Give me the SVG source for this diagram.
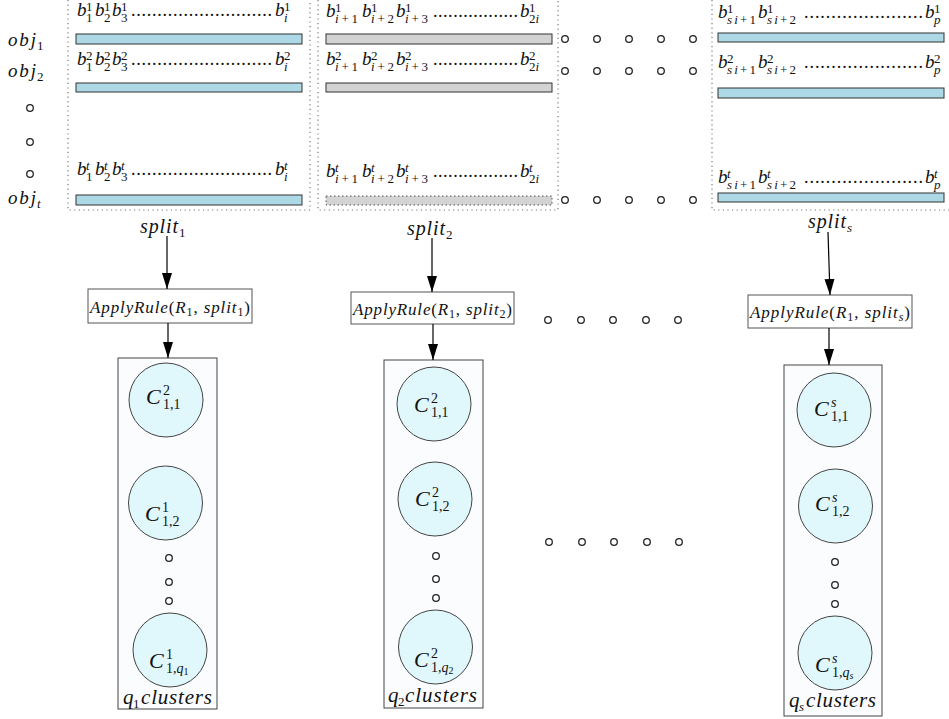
<svg xmlns="http://www.w3.org/2000/svg" width="949" height="719" viewBox="0 0 949 719">
  <style>
    text { font-family: "Liberation Serif", "DejaVu Serif", serif; fill: #111; }
    .m { font-style: italic; font-size: 19px; }
    .s { font-size: 13px; }
    .it { font-style: italic; }
    .dots { font-size: 18px; }
    .c { font-style: italic; font-size: 22px; }
    .cs { font-size: 14px; }
    .lbl { font-style: italic; font-size: 20px; }
    .cls { font-style: italic; font-size: 21px; }
    .rule { font-size: 17px; }
    .sep { fill: none; stroke: #777; stroke-width: 1.2; stroke-dasharray: 1.2 3.4; }
    .bar-b { fill: #add8e6; stroke: #333; stroke-width: 1; }
    .bar-g { fill: #d3d3d3; stroke: #333; stroke-width: 1; }
    .bar-gd { fill: #d3d3d3; stroke: #555; stroke-width: 1; stroke-dasharray: 1.5 2.5; }
    .o { fill: #fff; stroke: #222; stroke-width: 1.3; }
    .rbox { fill: #fff; stroke: #555; stroke-width: 1; }
    .cbox { fill: #fafcfe; stroke: #444; stroke-width: 1; }
    .cl { fill: #e0f7fc; stroke: #444; stroke-width: 1; }
    .edge { stroke: #000; stroke-width: 1.2; fill: none; marker-end: url(#arr); }
  </style>
  <defs>
    <marker id="arr" viewBox="0 0 16 10" refX="16" refY="5" markerWidth="16" markerHeight="10" markerUnits="userSpaceOnUse" orient="auto">
      <path d="M0,0 L16,5 L0,10 z" fill="#000"/>
    </marker>
  </defs>
  <rect width="949" height="719" fill="#fff"/>

  <!-- object labels -->
  <g id="objects">
    <text class="m" x="8" y="46" textLength="28">obj</text><text class="s" x="37" y="50">1</text>
    <text class="m" x="8" y="77" textLength="28">obj</text><text class="s" x="37" y="81">2</text>
    <circle class="o" cx="30" cy="108" r="3.3"/>
    <circle class="o" cx="30" cy="142" r="3.3"/>
    <circle class="o" cx="30" cy="174" r="3.3"/>
    <text class="m" x="8" y="204" textLength="28">obj</text><text class="s it" x="37" y="208">t</text>
  </g>

  <!-- split 1 -->
  <g id="split1">
    <path class="sep" d="M68,0 V210 H310 V0"/>
    <rect class="bar-b" x="76" y="34" width="226" height="10"/>
    <rect class="bar-b" x="76" y="83" width="226" height="9"/>
    <rect class="bar-b" x="76" y="195" width="226" height="10"/>
    <!-- row 1 -->
    <text class="m" x="77" y="16">b</text><text class="s" x="86" y="11">1</text><text class="s" x="86" y="22">1</text>
    <text class="m" x="95" y="16">b</text><text class="s" x="104" y="11">1</text><text class="s" x="104" y="22">2</text>
    <text class="m" x="112" y="16">b</text><text class="s" x="121" y="11">1</text><text class="s" x="121" y="22">3</text>
    <text class="dots" x="131" y="16" textLength="141" lengthAdjust="spacing">...........................</text>
    <text class="m" x="275" y="16">b</text><text class="s" x="284" y="11">1</text><text class="s it" x="284" y="22">i</text>
    <!-- row 2 -->
    <text class="m" x="77" y="65">b</text><text class="s" x="86" y="60">2</text><text class="s" x="86" y="71">1</text>
    <text class="m" x="95" y="65">b</text><text class="s" x="104" y="60">2</text><text class="s" x="104" y="71">2</text>
    <text class="m" x="112" y="65">b</text><text class="s" x="121" y="60">2</text><text class="s" x="121" y="71">3</text>
    <text class="dots" x="131" y="65" textLength="141" lengthAdjust="spacing">...........................</text>
    <text class="m" x="275" y="65">b</text><text class="s" x="284" y="60">2</text><text class="s it" x="284" y="71">i</text>
    <!-- row t -->
    <text class="m" x="77" y="175">b</text><text class="s it" x="86" y="170">t</text><text class="s" x="86" y="181">1</text>
    <text class="m" x="95" y="175">b</text><text class="s it" x="104" y="170">t</text><text class="s" x="104" y="181">2</text>
    <text class="m" x="112" y="175">b</text><text class="s it" x="121" y="170">t</text><text class="s" x="121" y="181">3</text>
    <text class="dots" x="131" y="175" textLength="141" lengthAdjust="spacing">...........................</text>
    <text class="m" x="275" y="175">b</text><text class="s it" x="284" y="170">t</text><text class="s it" x="284" y="181">i</text>
    <text class="lbl" x="140" y="233" textLength="38">split</text><text class="s" x="179" y="237">1</text>
  </g>

  <!-- split 2 -->
  <g id="split2">
    <path class="sep" d="M318,0 V210 H558 V0"/>
    <rect class="bar-g" x="326" y="34" width="226" height="10"/>
    <rect class="bar-g" x="326" y="83" width="226" height="9"/>
    <rect class="bar-gd" x="326" y="196" width="226" height="9"/>
    <!-- row 1 -->
    <text class="m" x="326" y="17">b</text><text class="s" x="335" y="12">1</text><text class="s" x="335" y="23" textLength="23"><tspan class="it">i</tspan>+1</text>
    <text class="m" x="362" y="17">b</text><text class="s" x="371" y="12">1</text><text class="s" x="371" y="23" textLength="23"><tspan class="it">i</tspan>+2</text>
    <text class="m" x="396" y="17">b</text><text class="s" x="405" y="12">1</text><text class="s" x="405" y="23" textLength="23"><tspan class="it">i</tspan>+3</text>
    <text class="dots" x="433" y="17" textLength="85" lengthAdjust="spacing">.................</text>
    <text class="m" x="520" y="17">b</text><text class="s" x="529" y="12">1</text><text class="s" x="529" y="23">2<tspan class="it">i</tspan></text>
    <!-- row 2 -->
    <text class="m" x="326" y="65">b</text><text class="s" x="335" y="60">2</text><text class="s" x="335" y="71" textLength="23"><tspan class="it">i</tspan>+1</text>
    <text class="m" x="362" y="65">b</text><text class="s" x="371" y="60">2</text><text class="s" x="371" y="71" textLength="23"><tspan class="it">i</tspan>+2</text>
    <text class="m" x="396" y="65">b</text><text class="s" x="405" y="60">2</text><text class="s" x="405" y="71" textLength="23"><tspan class="it">i</tspan>+3</text>
    <text class="dots" x="433" y="65" textLength="85" lengthAdjust="spacing">.................</text>
    <text class="m" x="520" y="65">b</text><text class="s" x="529" y="60">2</text><text class="s" x="529" y="71">2<tspan class="it">i</tspan></text>
    <!-- row t -->
    <text class="m" x="326" y="177">b</text><text class="s it" x="335" y="172">t</text><text class="s" x="335" y="183" textLength="23"><tspan class="it">i</tspan>+1</text>
    <text class="m" x="362" y="177">b</text><text class="s it" x="371" y="172">t</text><text class="s" x="371" y="183" textLength="23"><tspan class="it">i</tspan>+2</text>
    <text class="m" x="396" y="177">b</text><text class="s it" x="405" y="172">t</text><text class="s" x="405" y="183" textLength="23"><tspan class="it">i</tspan>+3</text>
    <text class="dots" x="433" y="177" textLength="85" lengthAdjust="spacing">.................</text>
    <text class="m" x="520" y="177">b</text><text class="s it" x="529" y="172">t</text><text class="s" x="529" y="183">2<tspan class="it">i</tspan></text>
    <text class="lbl" x="407" y="235" textLength="38">split</text><text class="s" x="446" y="239">2</text>
  </g>

  <!-- split s -->
  <g id="splits">
    <path class="sep" d="M712,0 V210 H949"/>
    <rect class="bar-b" x="718" y="33" width="226" height="9"/>
    <rect class="bar-b" x="718" y="88" width="226" height="10"/>
    <rect class="bar-b" x="718" y="193" width="226" height="9"/>
    <!-- row 1 -->
    <text class="m" x="718" y="18">b</text><text class="s" x="727" y="13">1</text><text class="s" x="727" y="24" textLength="29"><tspan class="it">si</tspan>+1</text>
    <text class="m" x="758" y="18">b</text><text class="s" x="767" y="13">1</text><text class="s" x="767" y="24" textLength="29"><tspan class="it">si</tspan>+2</text>
    <text class="dots" x="804" y="18" textLength="119" lengthAdjust="spacing">......................</text>
    <text class="m" x="925" y="18">b</text><text class="s" x="934" y="13">1</text><text class="s it" x="934" y="24">p</text>
    <!-- row 2 -->
    <text class="m" x="718" y="68">b</text><text class="s" x="727" y="63">2</text><text class="s" x="727" y="74" textLength="29"><tspan class="it">si</tspan>+1</text>
    <text class="m" x="758" y="68">b</text><text class="s" x="767" y="63">2</text><text class="s" x="767" y="74" textLength="29"><tspan class="it">si</tspan>+2</text>
    <text class="dots" x="804" y="68" textLength="119" lengthAdjust="spacing">......................</text>
    <text class="m" x="925" y="68">b</text><text class="s" x="934" y="63">2</text><text class="s it" x="934" y="74">p</text>
    <!-- row t -->
    <text class="m" x="718" y="183">b</text><text class="s it" x="727" y="178">t</text><text class="s" x="727" y="189" textLength="29"><tspan class="it">si</tspan>+1</text>
    <text class="m" x="758" y="183">b</text><text class="s it" x="767" y="178">t</text><text class="s" x="767" y="189" textLength="29"><tspan class="it">si</tspan>+2</text>
    <text class="dots" x="804" y="183" textLength="119" lengthAdjust="spacing">......................</text>
    <text class="m" x="925" y="183">b</text><text class="s it" x="934" y="178">t</text><text class="s it" x="934" y="189">p</text>
    <text class="lbl" x="808" y="228" textLength="38">split</text><text class="s it" x="847" y="232">s</text>
  </g>

  <!-- ellipsis marks between columns -->
  <g id="ellipses">
    <circle class="o" cx="565" cy="39" r="3.3"/><circle class="o" cx="597" cy="39" r="3.3"/><circle class="o" cx="629" cy="39" r="3.3"/><circle class="o" cx="661" cy="39" r="3.3"/><circle class="o" cx="693" cy="39" r="3.3"/>
    <circle class="o" cx="565" cy="71" r="3.3"/><circle class="o" cx="597" cy="71" r="3.3"/><circle class="o" cx="629" cy="71" r="3.3"/><circle class="o" cx="661" cy="71" r="3.3"/><circle class="o" cx="693" cy="71" r="3.3"/>
    <circle class="o" cx="565" cy="200" r="3.3"/><circle class="o" cx="597" cy="200" r="3.3"/><circle class="o" cx="629" cy="200" r="3.3"/><circle class="o" cx="661" cy="200" r="3.3"/><circle class="o" cx="693" cy="200" r="3.3"/>
    <circle class="o" cx="548" cy="320" r="3.3"/><circle class="o" cx="581" cy="320" r="3.3"/><circle class="o" cx="613" cy="320" r="3.3"/><circle class="o" cx="646" cy="320" r="3.3"/><circle class="o" cx="678" cy="320" r="3.3"/>
    <circle class="o" cx="549" cy="542" r="3.3"/><circle class="o" cx="582" cy="542" r="3.3"/><circle class="o" cx="614" cy="542" r="3.3"/><circle class="o" cx="647" cy="542" r="3.3"/><circle class="o" cx="679" cy="542" r="3.3"/>
  </g>

  <!-- rule nodes -->
  <g id="rule1">
    <rect class="rbox" x="88" y="289" width="164" height="34"/>
    <text class="rule" x="90" y="313" textLength="160" lengthAdjust="spacing"><tspan class="it">ApplyRule</tspan>(<tspan class="it">R</tspan><tspan font-size="12" dy="3">1</tspan><tspan dy="-3">, </tspan><tspan class="it">split</tspan><tspan font-size="12" dy="3">1</tspan><tspan dy="-3">)</tspan></text>
  </g>
  <g id="rule2">
    <rect class="rbox" x="351" y="292" width="163" height="32"/>
    <text class="rule" x="353" y="315" textLength="159" lengthAdjust="spacing"><tspan class="it">ApplyRule</tspan>(<tspan class="it">R</tspan><tspan font-size="12" dy="3">1</tspan><tspan dy="-3">, </tspan><tspan class="it">split</tspan><tspan font-size="12" dy="3">2</tspan><tspan dy="-3">)</tspan></text>
  </g>
  <g id="rules">
    <rect class="rbox" x="748" y="295" width="164" height="33"/>
    <text class="rule" x="750" y="318" textLength="160" lengthAdjust="spacing"><tspan class="it">ApplyRule</tspan>(<tspan class="it">R</tspan><tspan font-size="12" dy="3">1</tspan><tspan dy="-3">, </tspan><tspan class="it">split</tspan><tspan class="it" font-size="12" dy="3">s</tspan><tspan dy="-3">)</tspan></text>
  </g>

  <!-- cluster groups -->
  <g id="clusters1">
    <rect class="cbox" x="118" y="358" width="99" height="351"/>
    <circle class="cl" cx="166" cy="400" r="37"/>
    <text class="c" x="146" y="404">C</text><text class="cs" x="163" y="395">2</text><text class="cs" x="163" y="409">1,1</text>
    <circle class="cl" cx="165.5" cy="503" r="37"/>
    <text class="c" x="145" y="521">C</text><text class="cs" x="162" y="512">1</text><text class="cs" x="162" y="526">1,2</text>
    <circle class="o" cx="169" cy="558" r="3.3"/><circle class="o" cx="169" cy="582" r="3.3"/><circle class="o" cx="169" cy="601" r="3.3"/>
    <circle class="cl" cx="170" cy="650" r="37"/>
    <text class="c" x="149" y="668">C</text><text class="cs" x="166" y="659">1</text><text class="cs" x="166" y="673">1,<tspan class="it">q</tspan><tspan font-size="10" dy="2">1</tspan></text>
    <text class="cls" x="123" y="704">q</text><text class="s" x="133" y="708">1</text><text class="cls" x="141" y="704" textLength="71">clusters</text>
  </g>
  <g id="clusters2">
    <rect class="cbox" x="384" y="360" width="99" height="348"/>
    <circle class="cl" cx="434" cy="404" r="37"/>
    <text class="c" x="414" y="412">C</text><text class="cs" x="431" y="403">2</text><text class="cs" x="431" y="417">1,1</text>
    <circle class="cl" cx="435" cy="499" r="37"/>
    <text class="c" x="415" y="506">C</text><text class="cs" x="432" y="497">2</text><text class="cs" x="432" y="511">1,2</text>
    <circle class="o" cx="436" cy="556" r="3.3"/><circle class="o" cx="436" cy="579" r="3.3"/><circle class="o" cx="436" cy="598" r="3.3"/>
    <circle class="cl" cx="435.5" cy="647" r="37"/>
    <text class="c" x="414" y="667">C</text><text class="cs" x="431" y="658">2</text><text class="cs" x="431" y="672">1,<tspan class="it">q</tspan><tspan font-size="10" dy="2">2</tspan></text>
    <text class="cls" x="388" y="702">q</text><text class="s" x="398" y="706">2</text><text class="cls" x="405" y="702" textLength="72">clusters</text>
  </g>
  <g id="clusterss">
    <rect class="cbox" x="784" y="365" width="98" height="351"/>
    <circle class="cl" cx="834" cy="410" r="37"/>
    <text class="c" x="814" y="416">C</text><text class="cs it" x="831" y="407">s</text><text class="cs" x="831" y="421">1,1</text>
    <circle class="cl" cx="835.5" cy="506" r="37"/>
    <text class="c" x="815" y="511">C</text><text class="cs it" x="832" y="502">s</text><text class="cs" x="832" y="516">1,2</text>
    <circle class="o" cx="835" cy="562" r="3.3"/><circle class="o" cx="835" cy="585" r="3.3"/><circle class="o" cx="835" cy="604" r="3.3"/>
    <circle class="cl" cx="835" cy="653" r="37"/>
    <text class="c" x="815" y="672">C</text><text class="cs it" x="832" y="663">s</text><text class="cs" x="832" y="677">1,<tspan class="it">q</tspan><tspan class="it" font-size="10" dy="2">s</tspan></text>
    <text class="cls" x="789" y="707">q</text><text class="s it" x="799" y="711">s</text><text class="cls" x="806" y="707" textLength="70">clusters</text>
  </g>

  <!-- connectors -->
  <g id="edges">
    <line class="edge" x1="167" y1="236" x2="167" y2="289"/>
    <line class="edge" x1="168" y1="323" x2="168" y2="358"/>
    <line class="edge" x1="432" y1="238" x2="432" y2="292"/>
    <line class="edge" x1="433" y1="324" x2="433" y2="360"/>
    <line class="edge" x1="828" y1="232" x2="830" y2="295"/>
    <line class="edge" x1="829" y1="328" x2="829" y2="365"/>
  </g>
</svg>
